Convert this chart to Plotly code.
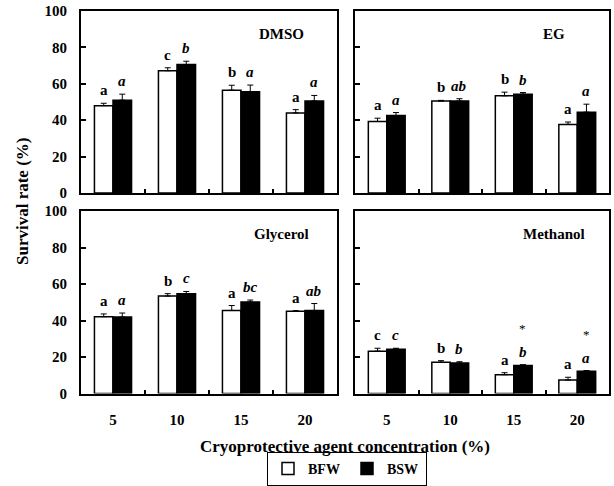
import plotly.graph_objects as go

categories = ["5", "10", "15", "20"]
series_names = ["BFW", "BSW"]

dmso_bfw = [48.0, 67.2, 56.5, 44.0]
dmso_bfw_err = [1.3, 1.6, 2.7, 1.8]
dmso_bsw = [51.0, 70.6, 55.6, 50.6]
dmso_bsw_err = [3.3, 1.8, 3.7, 3.0]
dmso_bfw_letters = ["a", "c", "b", "a"]
dmso_bsw_letters = ["a", "b", "a", "a"]

eg_bfw = [39.3, 50.5, 53.4, 37.7]
eg_bfw_err = [1.8, 0.4, 2.0, 1.3]
eg_bsw = [42.6, 50.5, 54.3, 44.4]
eg_bsw_err = [1.6, 1.3, 0.9, 4.4]
eg_bfw_letters = ["a", "b", "b", "a"]
eg_bsw_letters = ["a", "ab", "b", "a"]

gly_bfw = [42.1, 53.4, 45.5, 45.0]
gly_bfw_err = [1.5, 1.3, 2.7, 0.4]
gly_bsw = [41.9, 54.6, 50.1, 45.5]
gly_bsw_err = [2.2, 1.3, 1.1, 3.8]
gly_bfw_letters = ["a", "b", "a", "a"]
gly_bsw_letters = ["a", "c", "bc", "ab"]

meth_bfw = [23.2, 17.1, 10.3, 7.4]
meth_bfw_err = [1.6, 0.9, 1.1, 1.5]
meth_bsw = [24.3, 16.7, 15.4, 12.2]
meth_bsw_err = [0.5, 0.7, 0.4, 0.4]
meth_bfw_letters = ["c", "b", "a", "a"]
meth_bsw_letters = ["c", "b", "b", "a"]
meth_bsw_star = ["", "", "*", "*"]

panel_names = ["DMSO", "EG", "Glycerol", "Methanol"]
y_ticks = [0, 20, 40, 60, 80, 100]

panels = [
    (dmso_bfw, dmso_bfw_err, dmso_bsw, dmso_bsw_err, dmso_bfw_letters, dmso_bsw_letters, ["", "", "", ""]),
    (eg_bfw, eg_bfw_err, eg_bsw, eg_bsw_err, eg_bfw_letters, eg_bsw_letters, ["", "", "", ""]),
    (gly_bfw, gly_bfw_err, gly_bsw, gly_bsw_err, gly_bfw_letters, gly_bsw_letters, ["", "", "", ""]),
    (meth_bfw, meth_bfw_err, meth_bsw, meth_bsw_err, meth_bfw_letters, meth_bsw_letters, meth_bsw_star),
]

FONT = "Liberation Serif"
W, H = 614, 486
x_domains = [[81 / W, 337 / W], [355 / W, 609 / W], [81 / W, 337 / W], [355 / W, 609 / W]]
y_domains = [[1 - 193 / H, 1 - 11 / H], [1 - 193 / H, 1 - 11 / H],
             [1 - 393.5 / H, 1 - 211 / H], [1 - 393.5 / H, 1 - 211 / H]]

BARGAP = 0.42
half = (1 - BARGAP) / 4  # offset of each bar centre from category centre

fig = go.Figure()
annotations = []

for p, (bfw, bfw_e, bsw, bsw_e, l1, l2, stars) in enumerate(panels):
    sfx = "" if p == 0 else str(p + 1)
    xa, ya = "x" + sfx, "y" + sfx
    fig.add_trace(go.Bar(
        x=categories, y=bfw, name=series_names[0], xaxis=xa, yaxis=ya,
        marker=dict(color="white", line=dict(color="black", width=1.5)),
        error_y=dict(type="data", array=bfw_e, arrayminus=[0] * 4, symmetric=False,
                     color="black", thickness=1, width=3),
        showlegend=(p == 0), legendgroup="BFW"))
    fig.add_trace(go.Bar(
        x=categories, y=bsw, name=series_names[1], xaxis=xa, yaxis=ya,
        marker=dict(color="black", line=dict(color="black", width=1.5)),
        error_y=dict(type="data", array=bsw_e, arrayminus=[0] * 4, symmetric=False,
                     color="black", thickness=1, width=3),
        showlegend=(p == 0), legendgroup="BSW"))
    for i in range(len(categories)):
        annotations.append(dict(
            x=i - half, y=bfw[i] + bfw_e[i], xref=xa, yref=ya, text=l1[i],
            showarrow=False, yanchor="bottom", yshift=3,
            font=dict(family=FONT, size=15, color="black", weight="bold")))
        annotations.append(dict(
            x=i + half, y=bsw[i] + bsw_e[i], xref=xa, yref=ya, text="<i>" + l2[i] + "</i>",
            showarrow=False, yanchor="bottom", yshift=3,
            font=dict(family=FONT, size=15, color="black", weight="bold")))
        if stars[i]:
            annotations.append(dict(
                x=i + half, y=bsw[i] + bsw_e[i], xref=xa, yref=ya, text=stars[i],
                showarrow=False, yanchor="bottom", yshift=27,
                font=dict(family=FONT, size=13, color="black")))
    annotations.append(dict(
        x=2.64, y=87.5, xref=xa, yref=ya, text=panel_names[p], showarrow=False,
        xanchor="center", yanchor="middle",
        font=dict(family=FONT, size=15, color="black", weight="bold")))

annotations.append(dict(
    x=(81 + 609) / 2 / W, y=1 - 446 / H, xref="paper", yref="paper",
    text="Cryoprotective agent concentration (%)", showarrow=False,
    xanchor="center", yanchor="middle",
    font=dict(family=FONT, size=17, color="black", weight="bold")))
annotations.append(dict(
    x=22 / W, y=1 - 202 / H, xref="paper", yref="paper",
    text="Survival rate (%)", showarrow=False, textangle=-90,
    xanchor="center", yanchor="middle",
    font=dict(family=FONT, size=17, color="black", weight="bold")))

layout = dict(
    width=W, height=H, margin=dict(l=0, r=0, t=0, b=0, autoexpand=False),
    paper_bgcolor="white", plot_bgcolor="white",
    barmode="group", bargap=BARGAP, bargroupgap=0,
    annotations=annotations,
    font=dict(family=FONT, color="black"),
    legend=dict(orientation="h", x=347 / W, xanchor="center", y=1 - 469 / H, yanchor="middle",
                bordercolor="black", borderwidth=1, bgcolor="white",
                font=dict(family=FONT, size=14, color="black", weight="bold"),
                itemwidth=30, entrywidth=34, entrywidthmode="pixels", traceorder="normal"),
)

for p in range(4):
    sfx = "" if p == 0 else str(p + 1)
    bottom = p >= 2
    left = p % 2 == 0
    layout["xaxis" + sfx] = dict(
        domain=x_domains[p], anchor="y" + sfx, type="category", automargin=False,
        categoryorder="array", categoryarray=categories,
        range=[-0.5, 3.5], tickson="boundaries", ticks="inside", ticklen=4,
        tickwidth=1.5, tickcolor="black",
        showline=True, linecolor="black", linewidth=2, mirror=True,
        showgrid=False, zeroline=False, fixedrange=True,
        showticklabels=bottom, ticklabelstandoff=11,
        tickfont=dict(family=FONT, size=15, color="black", weight="bold"))
    layout["yaxis" + sfx] = dict(
        domain=y_domains[p], anchor="x" + sfx, range=[0, 100], automargin=False,
        tickvals=y_ticks, ticks="inside", ticklen=5, tickwidth=1.5, tickcolor="black",
        showline=True, linecolor="black", linewidth=2, mirror=True,
        showgrid=False, zeroline=False, fixedrange=True,
        showticklabels=left, ticklabelstandoff=9,
        tickfont=dict(family=FONT, size=15, color="black", weight="bold"))

fig.update_layout(**layout)

fig.write_html("out.html", config={"displayModeBar": False},
               post_script="document.body.style.margin='0px';")
